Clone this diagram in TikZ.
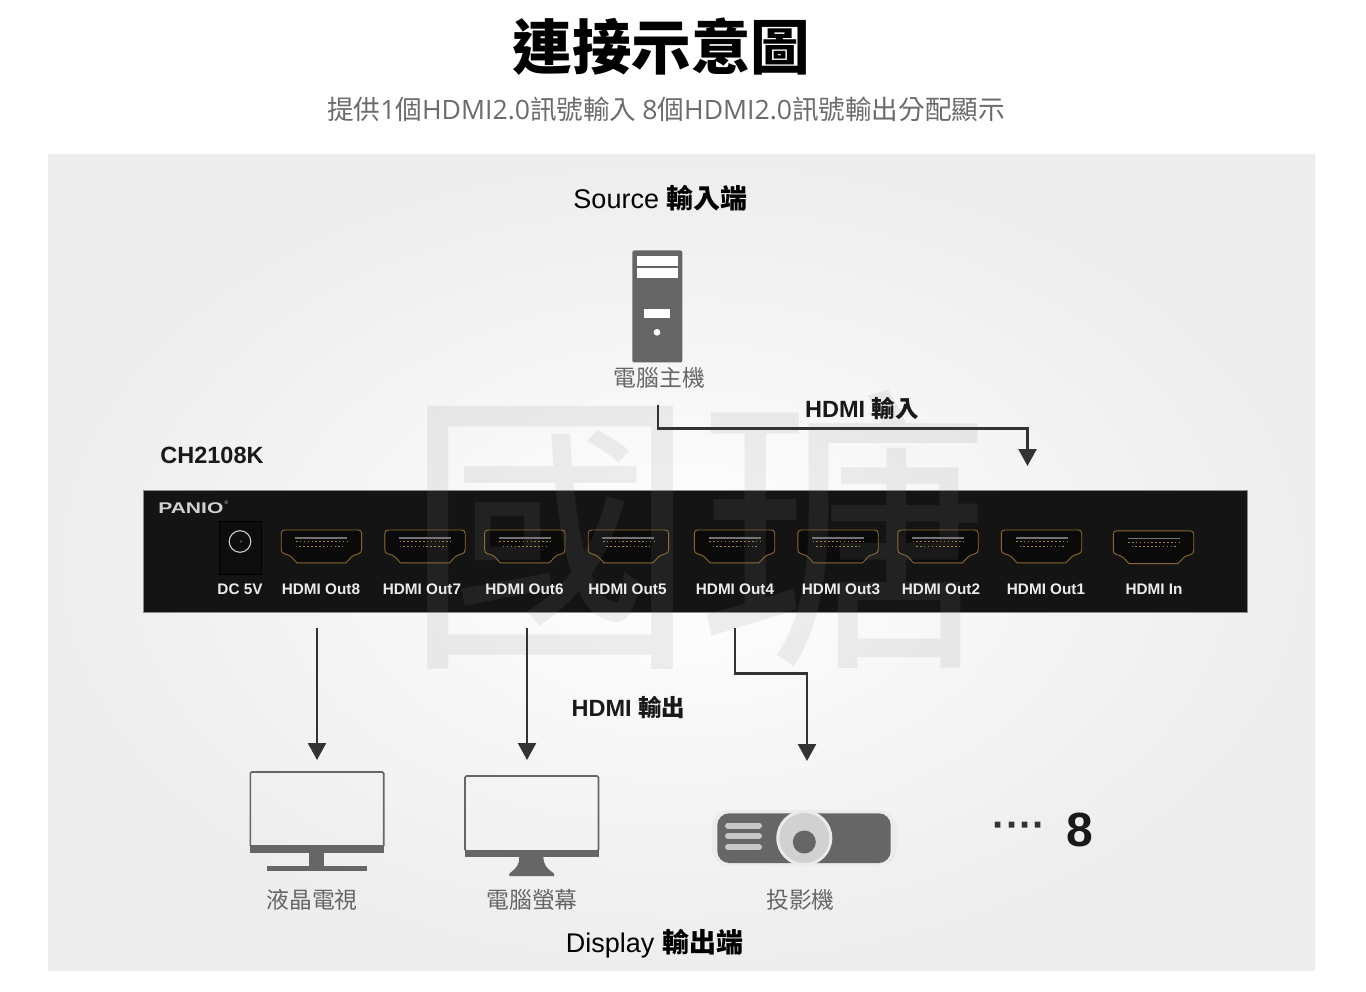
\documentclass[tikz,border=0pt]{standalone}
\usepackage{fontspec}
\setmainfont{Liberation Sans}
\newfontfamily\cjk{Noto Sans CJK TC}
\newfontfamily\opens{Open Sans}
\newcommand{\fsz}[1]{\fontsize{#1}{#1}\selectfont}
\usetikzlibrary{arrows.meta}
\definecolor{icon}{HTML}{666666}
\definecolor{connc}{HTML}{333333}
\definecolor{gold}{HTML}{A9843A}
\definecolor{goldline}{HTML}{8A6A2C}
\tikzset{
  x=1pt,y=-1pt,
  portlabel/.style={text=white!92!black,font=\bfseries\fsz{15.3},inner sep=0pt,anchor=center},
  caption/.style={text=icon,font=\cjk\fsz{22.8},inner sep=0pt,anchor=center},
  heading/.style={text=black,font=\fsz{27},inner sep=0pt,anchor=center},
  sublabel/.style={text=black!90,font=\bfseries\fsz{23.5},inner sep=0pt,anchor=center},
  connline/.style={draw=connc,line width=2.4pt,line cap=butt,line join=miter,-{Triangle[length=17pt,width=18pt]}},
  hdmiport/.pic={
    \draw[goldline,line width=.9pt,fill=black!96] (-36.5,-16.4) -- (36.5,-16.4) .. controls (39,-16.4) and (40.2,-15.2) .. (40.2,-13) -- (40.2,3) .. controls (40.2,5.5) and (39,7) .. (37,7.4) .. controls (34,8) and (32,9) .. (30,10.5) -- (24.5,16.4) -- (-24.5,16.4) -- (-30,10.5) .. controls (-32,9) and (-34,8) .. (-37,7.4) .. controls (-39,7) and (-40.2,5.5) .. (-40.2,3) -- (-40.2,-13) .. controls (-40.2,-15.2) and (-39,-16.4) .. (-36.5,-16.4) -- cycle;
    \draw[black!55,line width=1.8pt] (-26,-8.7) -- (26,-8.7);
    \draw[gold,line width=1pt,dash pattern=on 1.6pt off 2.3pt] (-25.5,-4.6) -- (25.5,-4.6);
    \draw[gold,line width=1pt,dash pattern=on 1.6pt off 2.3pt] (-22,-.4) -- (22,-.4);
  }
}
\begin{document}
\begin{tikzpicture}
\useasboundingbox (0,0) rectangle (1366,992);
\fill[white] (0,0) rectangle (1366,992);
% backdrop
\shade[inner color=white,outer color=black!7] (48,155) rectangle (1315,970);
% device panel
\fill[black!92] (143,490.5) rectangle (1247,612);
\draw[black!45,line width=.6pt] (143,490.5) rectangle (1247,612);
% power jack
\draw[black,fill=black!95,line width=.7pt] (219.5,521.5) rectangle (261.5,574);
\draw[black!20,line width=1.1pt] (240,541.5) circle (10.8);
\fill[black!70] (241,541.5) circle (1.4);
% ports
\foreach \px/\py in {321.4/546.4,425/546.4,524.8/546.4,628.4/546.4,734.5/546.4,838/546.4,938/546.4,1041.5/546.4,1153.5/547.2}
  \pic at (\px,\py) {hdmiport};
% watermark
\node (watermark) [inner sep=0pt,text=black!48,opacity=.125,font=\cjk\fsz{300},xscale=.98] at (697,530) {國瑭};
% logo
\node (logo) [inner sep=0pt,anchor=west,text=black!18,font=\bfseries\fsz{15.5},xscale=1.36] at (158,508) {PANIO};
\node (logoreg) [inner sep=0pt,text=black!18,font=\fsz{5}] at (226.5,503) {®};
% port labels
\node (lbldc) [portlabel] at (240,589.5) {DC 5V};
\node (lbl8) [portlabel] at (321,589.5) {HDMI Out8};
\node (lbl7) [portlabel] at (422,589.5) {HDMI Out7};
\node (lbl6) [portlabel] at (524.5,589.5) {HDMI Out6};
\node (lbl5) [portlabel] at (627.5,589.5) {HDMI Out5};
\node (lbl4) [portlabel] at (735,589.5) {HDMI Out4};
\node (lbl3) [portlabel] at (841,589.5) {HDMI Out3};
\node (lbl2) [portlabel] at (941,589.5) {HDMI Out2};
\node (lbl1) [portlabel] at (1046,589.5) {HDMI Out1};
\node (lblin) [portlabel] at (1154,589.5) {HDMI In};
% titles
\node (title) [inner sep=0pt,text=black,font=\cjk\bfseries\fsz{59.5}] at (661.5,47) {連接示意圖};
\node (subtitle) [inner sep=0pt,text=black!58,font=\cjk\fsz{26.6}] at (666,109) {提供{\opens 1}個{\opens HDMI2.0}訊號輸入 {\opens 8}個{\opens HDMI2.0}訊號輸出分配顯示};
\node (source) [heading] at (660.5,198) {Source {\cjk\bfseries 輸入端}};
\node (display) [heading] at (654.5,944) {Display {\cjk\bfseries 輸出端}};
\node (model) [sublabel] at (212,455.5) {CH2108K};
\node (hdmiin) [sublabel] at (862,408) {HDMI {\cjk 輸入}};
\node (hdmiout) [sublabel] at (628.5,707) {HDMI {\cjk 輸出}};
% tower
\fill[icon,rounded corners=2pt] (632.3,250.5) rectangle (682.3,362.5);
\fill[white] (636.7,256) rectangle (678.3,266);
\fill[white] (636.7,268) rectangle (678.3,278.3);
\fill[white] (644.3,309.3) rectangle (670,318.3);
\fill[white] (657,332.3) circle (3.4);
\node (pc) [caption] at (659.5,378) {電腦主機};
% tv
\draw[icon,line width=1.6pt,rounded corners=1.5pt] (250.3,772) rectangle (383.7,847);
\fill[icon] (250,845) rectangle (383.7,853.3);
\fill[icon] (309.3,853) rectangle (324,867);
\fill[icon] (266.7,866.3) rectangle (366.7,870.5);
\node (tv) [caption] at (312,900) {液晶電視};
% monitor
\draw[icon,line width=1.6pt,rounded corners=1.5pt] (465,776) rectangle (598.5,851);
\fill[icon] (464.7,849.5) rectangle (598.7,857.3);
\fill[icon] (519.3,857) -- (543.3,857) .. controls (543.5,864) and (546,868) .. (554,873.5) -- (554,876) -- (509.3,876) -- (509.3,873.5) .. controls (517,868) and (519.5,864) .. (519.3,857) -- cycle;
\node (mon) [caption] at (532,900) {電腦螢幕};
% projector
\fill[black!8,rounded corners=17pt] (712,810) rectangle (896.7,865.7);
\fill[icon,rounded corners=12pt] (717.3,813.3) rectangle (890.7,863);
\fill[black!8] (804.3,838) circle (28);
\fill[black!18] (804.3,838) circle (25);
\fill[icon] (804.3,842) circle (11.5);
\draw[black!22,line width=6pt,line cap=round] (728,825.5) -- (759,825.5);
\draw[black!22,line width=6pt,line cap=round] (728,836.3) -- (759,836.3);
\draw[black!22,line width=6pt,line cap=round] (728,847.3) -- (759,847.3);
\node (proj) [caption] at (800.5,900) {投影機};
% more
\node (dots) [inner sep=0pt,text=connc,font=\bfseries\fsz{40}] at (1019.5,830) {····};
\node (eight) [inner sep=0pt,text=black!90,font=\bfseries\fsz{48}] at (1080,829.5) {8};
% connectors
\coordinate (inStart) at (658,405);
\coordinate (inEnd) at (1027.5,466);
\coordinate (outAStart) at (317,628);
\coordinate (outAEnd) at (317,760);
\coordinate (outBStart) at (527,628);
\coordinate (outBEnd) at (527,760);
\coordinate (outCStart) at (735,628);
\coordinate (outCEnd) at (807,761);
\draw[connline] (inStart) |- (1027.5,428.5) -- (inEnd);
\draw[connline] (outAStart) -- (outAEnd);
\draw[connline] (outBStart) -- (outBEnd);
\draw[connline] (outCStart) |- (807,673.5) -- (outCEnd);
\end{tikzpicture}
\end{document}
